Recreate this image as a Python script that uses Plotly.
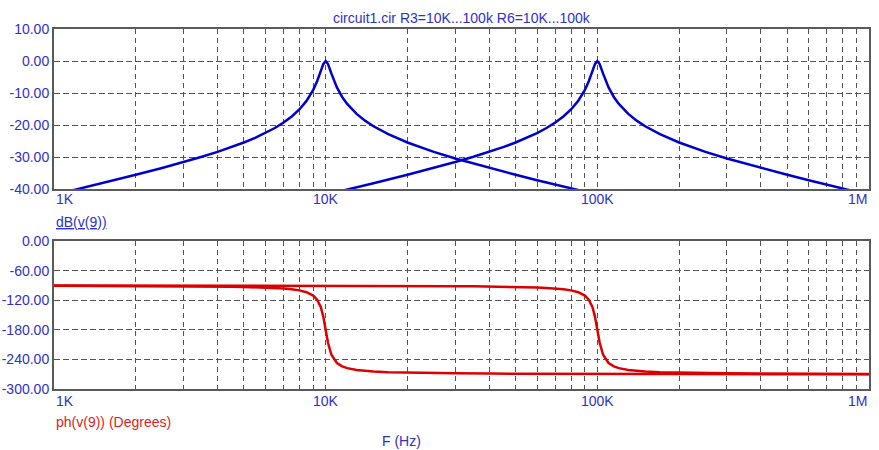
import plotly.graph_objects as go

# ---------------- data ----------------
# R3 sweep: resonance near 10 kHz
freq_r3 = [1000, 1200, 1500, 2000, 2500, 3000, 3500, 4000, 4500, 5000,
           5500, 6000, 6500, 7000, 7500, 8000, 8500, 9000, 9300, 9600,
           9800, 10000, 10200, 10500, 11000, 11500, 12000, 13000, 14000, 15000,
           17000, 20000, 25000, 30000, 40000, 50000, 60000, 70000, 85000, 100000,
           200000, 500000, 1000000]
mag_r3 = [-41.85, -40.23, -38.22, -35.56, -33.42, -31.58, -29.93, -28.39, -26.92, -25.47,
          -24.02, -22.52, -20.94, -19.24, -17.34, -15.14, -12.47, -9.01, -6.33, -3.10,
          -0.99, 0.0, -0.95, -3.96, -8.26, -11.24, -13.42, -16.53, -18.72, -20.39,
          -22.88, -25.47, -28.39, -30.46, -33.42, -35.56, -37.26, -38.66, -40.41, -41.85,
          -47.94, -55.92, -61.94]
phase_r3 = [-90.46, -90.56, -90.70, -90.95, -91.22, -91.51, -91.83, -92.18, -92.59, -93.05,
            -93.61, -94.29, -95.15, -96.27, -97.81, -100.08, -103.77, -110.76, -118.84, -134.4,
            -153.2, -180.0, -206.3, -230.66, -247.27, -254.08, -257.69, -261.43, -263.35, -264.52,
            -265.89, -266.95, -267.82, -268.28, -268.78, -269.05, -269.21, -269.33, -269.45, -269.54,
            -269.77, -269.91, -269.95]

# R6 sweep: resonance near 100 kHz
freq_r6 = [1000, 2000, 5000, 10000, 12000, 15000, 20000, 25000, 30000, 35000,
           40000, 45000, 50000, 55000, 60000, 65000, 70000, 75000, 80000, 85000,
           90000, 93000, 96000, 98000, 100000, 102000, 105000, 110000, 115000, 120000,
           130000, 140000, 150000, 170000, 200000, 250000, 300000, 400000, 500000, 600000,
           700000, 850000, 1000000]
mag_r6 = [-61.94, -55.91, -47.94, -41.85, -40.23, -38.22, -35.56, -33.42, -31.58, -29.93,
          -28.39, -26.92, -25.47, -24.02, -22.52, -20.94, -19.24, -17.34, -15.14, -12.47,
          -9.01, -6.33, -3.10, -0.99, 0.0, -0.95, -3.96, -8.26, -11.24, -13.42,
          -16.53, -18.72, -20.39, -22.88, -25.47, -28.39, -30.46, -33.42, -35.56, -37.26,
          -38.66, -40.41, -41.85]
phase_r6 = [-90.05, -90.09, -90.23, -90.46, -90.56, -90.70, -90.95, -91.22, -91.51, -91.83,
            -92.18, -92.59, -93.05, -93.61, -94.29, -95.15, -96.27, -97.81, -100.08, -103.77,
            -110.76, -118.84, -134.4, -153.2, -180.0, -206.3, -230.66, -247.27, -254.08, -257.69,
            -261.43, -263.35, -264.52, -265.89, -266.95, -267.82, -268.28, -268.78, -269.05, -269.21,
            -269.33, -269.45, -269.54]

grid_freqs = [1000, 2000, 3000, 4000, 5000, 6000, 7000, 8000, 9000,
              10000, 20000, 30000, 40000, 50000, 60000, 70000, 80000, 90000,
              100000, 200000, 300000, 400000, 500000, 600000, 700000, 800000, 900000, 1000000]
x_tick_vals = [1000, 10000, 100000, 1000000]
x_tick_text = ["1K", "10K", "100K", "1M"]
mag_ticks = [10, 0, -10, -20, -30, -40]
mag_tick_text = ["10.00", "0.00", "-10.00", "-20.00", "-30.00", "-40.00"]
ph_ticks = [0, -60, -120, -180, -240, -300]
ph_tick_text = ["0.00", "-60.00", "-120.00", "-180.00", "-240.00", "-300.00"]

title_text = "circuit1.cir R3=10K...100k R6=10K...100k"

# ---------------- style ----------------
FONT = "Liberation Sans, Arial, sans-serif"
FS = 14
BLUE_TXT = "#3030c8"
RED_TXT = "#dd2222"
BLUE_LINE = "#0000cc"
RED_LINE = "#dd0000"
GRID = "#555555"
BORDER = "#5a5a5a"

fig = go.Figure()
fig.add_trace(go.Scatter(x=freq_r3, y=mag_r3, mode="lines", xaxis="x", yaxis="y",
                         line=dict(color=BLUE_LINE, width=2.5), showlegend=False, hoverinfo="skip"))
fig.add_trace(go.Scatter(x=freq_r6, y=mag_r6, mode="lines", xaxis="x", yaxis="y",
                         line=dict(color=BLUE_LINE, width=2.5), showlegend=False, hoverinfo="skip"))
fig.add_trace(go.Scatter(x=freq_r3, y=phase_r3, mode="lines", xaxis="x2", yaxis="y2",
                         line=dict(color=RED_LINE, width=2.5), showlegend=False, hoverinfo="skip"))
fig.add_trace(go.Scatter(x=freq_r6, y=phase_r6, mode="lines", xaxis="x2", yaxis="y2",
                         line=dict(color=RED_LINE, width=2.5), showlegend=False, hoverinfo="skip"))

xcommon = dict(type="log", range=[3, 6], tickvals=grid_freqs, showticklabels=False, ticks="",
               showgrid=True, gridcolor=GRID, gridwidth=1, griddash="5px,4px",
               showline=True, mirror=True, linecolor=BORDER, linewidth=2, zeroline=False,
               fixedrange=True, automargin=False)
ycommon = dict(ticks="", showgrid=True, gridcolor=GRID, gridwidth=1, griddash="6px,3px",
               showline=True, mirror=True, linecolor=BORDER, linewidth=2, zeroline=False,
               tickfont=dict(family=FONT, size=FS, color=BLUE_TXT), fixedrange=True,
               automargin=False)

top_bottom = (389 - 189) / 360
bot_top = (389 - 241) / 360

fig.update_layout(
    width=879, height=450,
    margin=dict(l=54, r=10, t=29, b=61, pad=0, autoexpand=False),
    paper_bgcolor="white", plot_bgcolor="white",
    font=dict(family=FONT, size=FS, color=BLUE_TXT),
    xaxis=dict(domain=[0, 1], anchor="y", **xcommon),
    yaxis=dict(domain=[top_bottom, 1], anchor="x", range=[-40, 10],
               tickvals=mag_ticks, ticktext=mag_tick_text, **ycommon),
    xaxis2=dict(domain=[0, 1], anchor="y2", **xcommon),
    yaxis2=dict(domain=[0, bot_top], anchor="x2", range=[-300, 0],
                tickvals=ph_ticks, ticktext=ph_tick_text, **ycommon),
)

ann = []
# x tick labels (top and bottom plots)
for yref_pos in [(389 - 199) / 360, (389 - 401) / 360]:
    for i, (v, t) in enumerate(zip(x_tick_vals, x_tick_text)):
        if i == 0:
            anchor = "left"
        elif i == len(x_tick_vals) - 1:
            anchor = "right"
        else:
            anchor = "center"
        ann.append(dict(x=[3, 4, 5, 6][i], xref="x", y=yref_pos, yref="paper", text=t,
                        showarrow=False, xanchor=anchor, yanchor="middle",
                        font=dict(family=FONT, size=FS, color=BLUE_TXT)))

ann.append(dict(x=0, xref="paper", y=(389 - 222) / 360, yref="paper",
                text='<span style="text-decoration:underline">dB(v(9))</span>',
                showarrow=False, xanchor="left", yanchor="middle",
                font=dict(family=FONT, size=FS, color=BLUE_TXT)))
ann.append(dict(x=0, xref="paper", y=(389 - 422) / 360, yref="paper",
                text="ph(v(9)) (Degrees)", showarrow=False, xanchor="left", yanchor="middle",
                font=dict(family=FONT, size=FS, color=RED_TXT)))
ann.append(dict(x=(401 - 54) / 815, xref="paper", y=(389 - 441) / 360, yref="paper",
                text="F (Hz)", showarrow=False, xanchor="center", yanchor="middle",
                font=dict(family=FONT, size=FS, color=BLUE_TXT)))
ann.append(dict(x=0.5, xref="paper", y=(389 - 18) / 360, yref="paper",
                text=title_text, showarrow=False, xanchor="center", yanchor="middle",
                font=dict(family=FONT, size=FS, color=BLUE_TXT)))
fig.update_layout(annotations=ann)

fig.write_html("out.html", config={"displayModeBar": False},
               post_script="document.body.style.margin='0';document.body.style.padding='0';")
